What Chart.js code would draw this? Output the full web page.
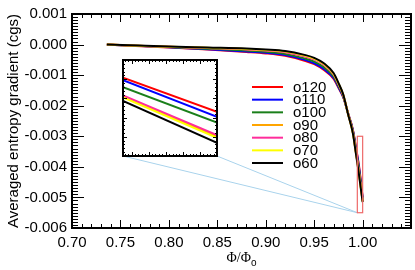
<!DOCTYPE html>
<html><head><meta charset="utf-8">
<script src="https://cdn.jsdelivr.net/npm/chart.js@4.4.1/dist/chart.umd.min.js"></script>
<style>
html,body{margin:0;padding:0;background:#fff;}
#wrap{position:relative;width:415px;height:270px;overflow:hidden;}
#main{position:absolute;left:0;top:0;}
#inset{position:absolute;left:113px;top:50px;}
</style></head><body>
<div id="wrap"><canvas id="main" width="415" height="270"></canvas><canvas id="inset" width="114" height="116"></canvas></div>
<script>
// ---- data ----
const seriesNames = ['o120','o110','o100','o90','o80','o70','o60'];
const seriesColors = ['#ff0000','#0000ff','#1a7f1a','#ffa500','#ff2d9b','#ffff00','#000000'];
const phiRatio = [0.736,0.76,0.80,0.84,0.88,0.90,0.92,0.94,0.95,0.96,0.97,0.975,0.98,0.985,0.99,0.993,0.996,0.998,1.0];
const o120 = [0,-0.000035,-0.000096,-0.000160,-0.000241,-0.000289,-0.000369,-0.000529,-0.000642,-0.000834,-0.001123,-0.001412,-0.001732,-0.002250,-0.002791,-0.003337,-0.003914,-0.004427,-0.004995];
const o110 = [0,-0.000034,-0.000091,-0.000151,-0.000224,-0.000269,-0.000345,-0.000500,-0.000611,-0.000800,-0.001094,-0.001388,-0.001718,-0.002258,-0.002810,-0.003370,-0.003957,-0.004466,-0.005019];
const o100 = [0,-0.000031,-0.000083,-0.000135,-0.000196,-0.000237,-0.000305,-0.000452,-0.000558,-0.000744,-0.001046,-0.001347,-0.001694,-0.002266,-0.002842,-0.003426,-0.004029,-0.004530,-0.005059];
const o90  = [0,-0.000028,-0.000071,-0.000109,-0.000151,-0.000186,-0.000241,-0.000375,-0.000475,-0.000654,-0.000969,-0.001283,-0.001655,-0.002274,-0.002894,-0.003516,-0.004145,-0.004633,-0.005124];
const o80  = [0,-0.000028,-0.000073,-0.000113,-0.000158,-0.000194,-0.000250,-0.000387,-0.000487,-0.000668,-0.000980,-0.001293,-0.001661,-0.002272,-0.002886,-0.003503,-0.004128,-0.004617,-0.005114];
const o70  = [0,-0.000027,-0.000068,-0.000104,-0.000142,-0.000176,-0.000228,-0.000360,-0.000458,-0.000637,-0.000953,-0.001270,-0.001648,-0.002280,-0.002904,-0.003534,-0.004172,-0.004653,-0.005136];
const o60  = [0,-0.000026,-0.000064,-0.000096,-0.000128,-0.000160,-0.000209,-0.000337,-0.000433,-0.000610,-0.000930,-0.001251,-0.001636,-0.002290,-0.002919,-0.003561,-0.004203,-0.004684,-0.005156];
const mainSeries = [o120,o110,o100,o90,o80,o70,o60];

// inset (zoomed) data
const zoomX = [0.9945, 1.0];
const zoomY = [-0.0055, -0.003];
const insetX = [0.9945, 1.0];
const inset120 = [-0.003461,-0.004352];
const inset110 = [-0.003523,-0.004482];
const inset100 = [-0.003705,-0.004627];
const inset90  = [-0.003946,-0.004990];
const inset80  = [-0.003920,-0.004956];
const inset70  = [-0.003972,-0.005026];
const inset60  = [-0.004067,-0.005156];
const insetSeries = [inset120,inset110,inset100,inset90,inset80,inset70,inset60];

const xTickStep = 0.05, yTickStep = 0.001;
const xAxisTitle = ['Φ/Φ','o'];
const yAxisTitle = 'Averaged entropy gradient (cgs)';

// ---- helpers ----
const FONT = '"Liberation Sans", Arial, Helvetica, sans-serif';
Chart.defaults.font.family = FONT;
Chart.defaults.color = '#000';

function tickLoop(min, max, minor, ratio, cb){
  const k0 = Math.ceil(min/minor - 1e-6), k1 = Math.floor(max/minor + 1e-6);
  for(let k=k0;k<=k1;k++){ cb(k*minor, ((k%ratio)+ratio)%ratio===0); }
}
function drawIdlAxes(chart, o){
  const ctx = chart.ctx, ca = chart.chartArea, xs = chart.scales.x, ys = chart.scales.y;
  ctx.save();
  ctx.strokeStyle = '#000';
  ctx.lineWidth = 1;
  ctx.beginPath();
  tickLoop(xs.min, xs.max, o.xMinor, o.xRatio, (v, maj)=>{
    const p = Math.round(xs.getPixelForValue(v)) + 0.5;
    const L = maj ? o.xMaj : o.xMin;
    ctx.moveTo(p, ca.bottom); ctx.lineTo(p, ca.bottom - L);
    ctx.moveTo(p, ca.top); ctx.lineTo(p, ca.top + L);
  });
  tickLoop(ys.min, ys.max, o.yMinor, o.yRatio, (v, maj)=>{
    const p = Math.round(ys.getPixelForValue(v)) + 0.5;
    const L = maj ? o.yMaj : o.yMin;
    ctx.moveTo(ca.left, p); ctx.lineTo(ca.left + L, p);
    ctx.moveTo(ca.right, p); ctx.lineTo(ca.right - L, p);
  });
  ctx.stroke();
  ctx.lineWidth = o.frame;
  ctx.strokeRect(ca.left, ca.top, ca.right - ca.left, ca.bottom - ca.top);
  ctx.restore();
}

// ---- inset chart ----
const insetChart = new Chart(document.getElementById('inset'), {
  type: 'line',
  data: { datasets: seriesNames.map((n,i)=>({
    label: n,
    data: insetX.map((x,j)=>({x, y: insetSeries[i][j]})),
    borderColor: seriesColors[i], borderWidth: 2, pointRadius: 0, fill: false,
    order: seriesNames.length - 1 - i
  }))},
  options: {
    responsive: false, animation: false, devicePixelRatio: 1,
    layout: { padding: 10 },
    plugins: { legend: {display:false}, tooltip: {enabled:false} },
    scales: {
      x: { type:'linear', display:false, min: zoomX[0], max: zoomX[1] },
      y: { type:'linear', display:false, min: zoomY[0], max: zoomY[1] }
    }
  },
  plugins: [{
    id: 'insetAxes',
    beforeDraw(chart){ const c=chart.ctx, a=chart.chartArea; c.save(); c.fillStyle='#fff'; c.fillRect(a.left,a.top,a.right-a.left,a.bottom-a.top); c.restore(); },
    afterDraw(chart){ drawIdlAxes(chart, {xMinor:0.0002, xRatio:5, yMinor:0.0001, yRatio:5, xMaj:4, xMin:2, yMaj:4, yMin:2, frame:2}); }
  }]
});

// ---- main chart ----
new Chart(document.getElementById('main'), {
  type: 'line',
  data: { datasets: seriesNames.map((n,i)=>({
    label: n,
    data: phiRatio.map((x,j)=>({x, y: mainSeries[i][j]})),
    borderColor: seriesColors[i], borderWidth: 2, pointRadius: 0, fill: false,
    cubicInterpolationMode: 'monotone',
    order: seriesNames.length - 1 - i
  }))},
  options: {
    responsive: false, animation: false, devicePixelRatio: 1,
    layout: { padding: { top: 11, right: 4, left: 0, bottom: 0 } },
    plugins: { legend: {display:false}, tooltip: {enabled:false} },
    scales: {
      x: {
        type:'linear', min: 0.70, max: 1.0499,
        afterFit(s){ s.height = 42; },
        grid: { display:false, drawTicks:false }, border: { display:false },
        ticks: { stepSize: xTickStep, includeBounds:false, padding: 6, autoSkip:false, maxRotation:0,
                 font:{size:15}, color:'#000', callback: v => Number(v).toFixed(2) }
      },
      y: {
        type:'linear', min: -0.006, max: 0.001,
        afterFit(s){ s.width = 72; },
        grid: { display:false, drawTicks:false }, border: { display:false },
        ticks: { stepSize: yTickStep, padding: 5, autoSkip:false, font:{size:15}, color:'#000',
                 callback: v => (Math.abs(v) < 1e-9 ? 0 : Number(v)).toFixed(3) },
        title: { display:true, text: yAxisTitle, color:'#000', font:{size:15}, padding:{top:5,bottom:0} }
      }
    }
  },
  plugins: [{
    id: 'mainDecor',
    afterDatasetsDraw(chart){
      const ctx = chart.ctx, ca = chart.chartArea, xs = chart.scales.x, ys = chart.scales.y;
      const rx0 = xs.getPixelForValue(zoomX[0]), rx1 = xs.getPixelForValue(zoomX[1]);
      const ry0 = ys.getPixelForValue(zoomY[0]), ry1 = ys.getPixelForValue(zoomY[1]);
      ctx.save();
      // connector lines from inset corners to zoom rectangle
      const ic = insetChart.chartArea, off = insetChart.canvas;
      const ox = off.offsetLeft, oy = off.offsetTop;
      ctx.strokeStyle = '#a9d3ec'; ctx.lineWidth = 1;
      ctx.beginPath();
      ctx.moveTo(ox + ic.left, oy + ic.bottom); ctx.lineTo(rx0, ry0);
      ctx.moveTo(ox + ic.right, oy + ic.bottom); ctx.lineTo(rx0, ry0);
      ctx.stroke();
      ctx.strokeStyle = '#ee6a6a'; ctx.lineWidth = 1.2;
      ctx.strokeRect(rx0, ry1, rx1 - rx0, ry0 - ry1);
      // legend
      const lx0 = 252, lx1 = 283, tx = 293, ly0 = 87, dy = 12.67;
      ctx.font = '15px ' + FONT; ctx.textBaseline = 'middle'; ctx.textAlign = 'left';
      chart.data.datasets.forEach((d,i)=>{
        const y = ly0 + i*dy;
        ctx.strokeStyle = d.borderColor; ctx.lineWidth = 2;
        ctx.beginPath(); ctx.moveTo(lx0, y); ctx.lineTo(lx1, y); ctx.stroke();
        ctx.fillStyle = '#000'; ctx.fillText(d.label, tx, y + 0.5);
      });
      // x axis title with subscript
      ctx.textBaseline = 'alphabetic';
      ctx.font = '14px "Liberation Serif", serif';
      const w1 = ctx.measureText(xAxisTitle[0]).width;
      ctx.font = '10px ' + FONT;
      const w2 = ctx.measureText(xAxisTitle[1]).width;
      const cx = (ca.left + ca.right)/2, x0 = cx - (w1 + w2)/2;
      ctx.font = '14px "Liberation Serif", serif';
      ctx.fillText(xAxisTitle[0], x0, ca.bottom + 34);
      ctx.font = '10px ' + FONT;
      ctx.fillText(xAxisTitle[1], x0 + w1, ca.bottom + 38);
      ctx.restore();
    },
    afterDraw(chart){ drawIdlAxes(chart, {xMinor:0.01, xRatio:5, yMinor:0.0001, yRatio:10, xMaj:8, xMin:4, yMaj:12, yMin:6, frame:2}); }
  }]
});
</script></body></html>
